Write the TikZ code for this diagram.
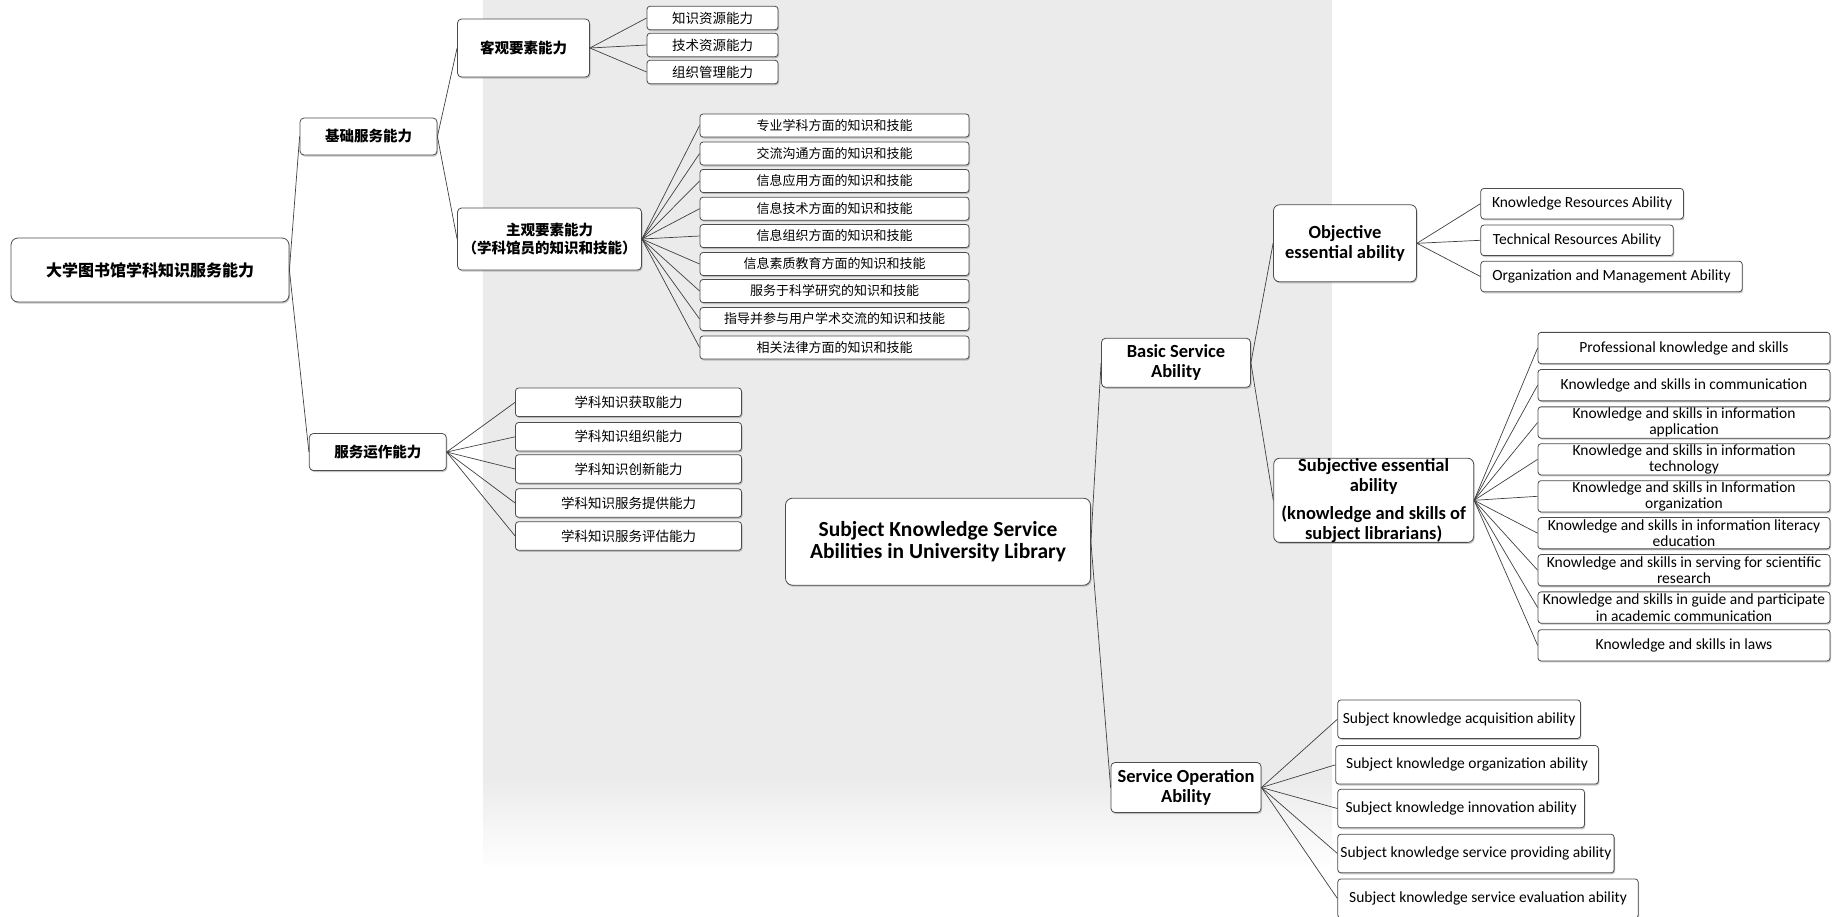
\documentclass[tikz,border=0pt]{standalone}
\usepackage{fontspec}
\setmainfont{Carlito}
\newfontfamily\cjk{Noto Sans CJK SC}
\usetikzlibrary{shadows}
\begin{document}
\begin{tikzpicture}[x=1pt,y=-1pt,
  box/.style={draw=black!70, line width=0.8pt, fill=white, rounded corners=4pt, align=center, inner sep=0pt,
    drop shadow={shadow xshift=1pt, shadow yshift=-1.5pt, fill=black!45, opacity=0.5}},
  conn/.style={draw=black!75, line width=0.7pt},
  cnl/.style={font=\cjk\fontsize{13.5}{16}\selectfont},
  cnd/.style={font=\cjk\fontsize{13}{16}\selectfont},
  cnh/.style={font=\cjk\bfseries\fontsize{14.5}{18}\selectfont},
  enl/.style={font=\fontsize{15.5}{16.7}\selectfont},
  enh/.style={font=\bfseries\fontsize{18.5}{20}\selectfont}]
\useasboundingbox (0,0) rectangle (1839,916);
% watermark background
\fill[black!8] (483,0) rectangle (1332,775);
\shade[top color=black!8, bottom color=white] (483,775) rectangle (1332,870);

% ---------- Chinese tree ----------
\node[box,minimum width=278pt,minimum height=64pt,rounded corners=7pt,font=\cjk\bfseries\fontsize{16}{19}\selectfont] (r0) at (150,270) {大学图书馆学科知识服务能力};
\node[box,cnh,minimum width=137pt,minimum height=37pt] (a1) at (368.5,136.5) {基础服务能力};
\node[box,cnh,minimum width=137pt,minimum height=37pt] (a2) at (377.8,452) {服务运作能力};
\node[box,cnh,minimum width=132pt,minimum height=58pt] (b1) at (523.5,48) {客观要素能力};
\node[box,cnh,minimum width=184pt,minimum height=62pt] (b2) at (549.5,239) {主观要素能力\\（学科馆员的知识和技能）};

\node[box,cnl,minimum width=131pt,minimum height=23.5pt,rounded corners=3pt] (c1) at (712.5,18) {知识资源能力};
\node[box,cnl,minimum width=131pt,minimum height=23.5pt,rounded corners=3pt] (c2) at (712.5,45) {技术资源能力};
\node[box,cnl,minimum width=131pt,minimum height=23.5pt,rounded corners=3pt] (c3) at (712.5,72) {组织管理能力};

\foreach \n/\y/\t in {1/125.5/专业学科方面的知识和技能, 2/153.5/交流沟通方面的知识和技能, 3/181/信息应用方面的知识和技能, 4/208.7/信息技术方面的知识和技能, 5/236/信息组织方面的知识和技能, 6/264/信息素质教育方面的知识和技能, 7/291/服务于科学研究的知识和技能, 8/319/指导并参与用户学术交流的知识和技能, 9/347.5/相关法律方面的知识和技能}
  \node[box,cnd,minimum width=269pt,minimum height=23pt,rounded corners=3pt] (d\n) at (834.5,\y) {\t};

\foreach \n/\y/\t in {1/402.3/学科知识获取能力, 2/436.8/学科知识组织能力, 3/469/学科知识创新能力, 4/503/学科知识服务提供能力, 5/536/学科知识服务评估能力}
  \node[box,cnl,minimum width=226pt,minimum height=28.5pt,rounded corners=3pt] (e\n) at (628.5,\y) {\t};

\draw[conn] (r0.east) -- (a1.west);
\draw[conn] (r0.east) -- (a2.west);
\draw[conn] (a1.east) -- (b1.west);
\draw[conn] (a1.east) -- (b2.west);
\foreach \n in {1,2,3} \draw[conn] (b1.east) -- (c\n.west);
\foreach \n in {1,...,9} \draw[conn] (b2.east) -- (d\n.west);
\foreach \n in {1,...,5} \draw[conn] (a2.east) -- (e\n.west);

% ---------- English tree ----------
\node[box,minimum width=305pt,minimum height=87pt,rounded corners=7pt,font=\bfseries\fontsize{21.5}{22}\selectfont] (s0) at (938,541.7) {Subject Knowledge Service\\Abilities in University Library};
\node[box,enh,minimum width=149pt,minimum height=49pt] (s1) at (1176,362.8) {Basic Service\\Ability};
\node[box,enh,minimum width=150pt,minimum height=50pt] (s2) at (1186,787.5) {Service Operation\\Ability};
\node[box,enh,minimum width=143pt,minimum height=77pt,rounded corners=6pt] (t1) at (1345,243.3) {Objective\\essential ability};
\node[box,enh,minimum width=200pt,minimum height=83pt,rounded corners=6pt] (t2) at (1373.7,500.3) {Subjective essential\\ability\\[8pt](knowledge and skills of\\subject librarians)};

\node[box,enl,anchor=west,minimum width=202.6pt,minimum height=30.5pt,rounded corners=3pt] (u1) at (1480.4,203.7) {Knowledge Resources Ability};
\node[box,enl,anchor=west,minimum width=192.5pt,minimum height=30.5pt,rounded corners=3pt] (u2) at (1480.4,240.3) {Technical Resources Ability};
\node[box,enl,anchor=west,minimum width=261.4pt,minimum height=30.5pt,rounded corners=3pt] (u3) at (1480.4,276.5) {Organization and Management Ability};

\foreach \n/\y/\t in {1/348/Professional knowledge and skills, 2/385.2/Knowledge and skills in communication, 3/422.5/Knowledge and skills in information\\application, 4/459.3/Knowledge and skills in information\\technology, 5/496.3/Knowledge and skills in Information\\organization, 6/533.2/Knowledge and skills in information literacy\\education, 7/570.2/Knowledge and skills in serving for scientific\\research, 8/607.5/Knowledge and skills in guide and participate\\in academic communication, 9/645.3/Knowledge and skills in laws}
  \node[box,enl,minimum width=292pt,minimum height=31.3pt,rounded corners=3pt] (v\n) at (1684,\y) {\t};

\node[box,enl,anchor=west,minimum width=242.6pt,minimum height=38.5pt,rounded corners=3pt] (w1) at (1337.4,719.2) {Subject knowledge acquisition ability};
\node[box,enl,anchor=west,minimum width=262.6pt,minimum height=38.5pt,rounded corners=3pt] (w2) at (1335.4,764.8) {Subject knowledge organization ability};
\node[box,enl,anchor=west,minimum width=246.6pt,minimum height=38.5pt,rounded corners=3pt] (w3) at (1337.4,808.5) {Subject knowledge innovation ability};
\node[box,enl,anchor=west,minimum width=276.3pt,minimum height=38.5pt,rounded corners=3pt] (w4) at (1337.4,853.5) {Subject knowledge service providing ability};
\node[box,enl,anchor=west,minimum width=300.4pt,minimum height=39pt,rounded corners=3pt] (w5) at (1337.4,898.5) {Subject knowledge service evaluation ability};

\draw[conn] (s0.east) -- (s1.west);
\draw[conn] (s0.east) -- (s2.west);
\draw[conn] (s1.east) -- (t1.west);
\draw[conn] (s1.east) -- (t2.west);
\foreach \n in {1,2,3} \draw[conn] (t1.east) -- (u\n.west);
\foreach \n in {1,...,9} \draw[conn] (t2.east) -- (v\n.west);
\foreach \n in {1,...,5} \draw[conn] (s2.east) -- (w\n.west);
\end{tikzpicture}
\end{document}
